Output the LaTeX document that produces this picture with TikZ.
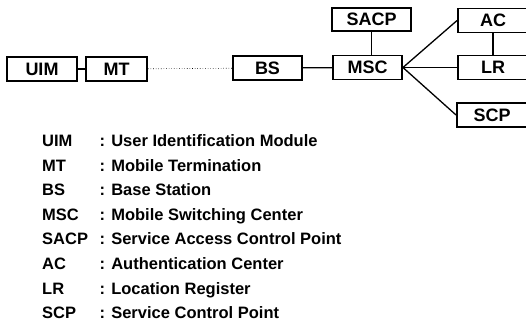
\documentclass[tikz,border=0pt]{standalone}
\usepackage{fontspec}
\setmainfont{Liberation Sans}
\begin{document}
\begin{tikzpicture}[x=1pt,y=-1pt,
  box/.style={draw=black, line width=1.9pt, minimum height=24pt, inner sep=0pt,
    font=\fontsize{18}{20}\selectfont\bfseries},
  conn/.style={line width=1.3pt},
  abbr/.style={anchor=base west, inner sep=0pt, font=\fontsize{16.5}{18}\selectfont\bfseries},
  desc/.style={anchor=base west, inner sep=0pt, font=\fontsize{16.5}{18}\selectfont\bfseries}]
\useasboundingbox (0,0) rectangle (526,327);
% boxes
\node[box, minimum width=70pt] (UIM) at (42,69) {UIM};
\node[box, minimum width=61pt] (MT) at (116.5,69) {MT};
\node[box, minimum width=69pt] (BS) at (267.5,68) {BS};
\node[box, minimum width=69pt] (MSC) at (367.5,67.5) {MSC};
\node[box, minimum width=79pt, minimum height=23pt] (SACP) at (371.5,19.5) {SACP};
\node[box, minimum width=70pt] (AC) at (493,20.5) {AC};
\node[box, minimum width=70pt] (LR) at (493,67.5) {LR};
\node[box, minimum width=70pt] (SCP) at (492,115) {SCP};
% connectors
\draw[conn] (UIM) -- (MT);
\draw[line width=0.6pt, dotted] (MT) -- (BS);
\draw[conn] (BS) -- (MSC);
\draw[conn] (SACP.south) -- (SACP.south |- MSC.north);
\draw[conn] (MSC.east) -- (AC.west);
\draw[conn] (MSC.east) -- (LR.west);
\draw[conn] (MSC.east) -- (SCP.west);
\draw[conn] (AC) -- (LR);
% legend
\node[abbr] (a1) at (42,146) {UIM};
\node[abbr] (a2) at (42,171) {MT};
\node[abbr] (a3) at (42,195) {BS};
\node[abbr] (a4) at (42,220) {MSC};
\node[abbr] (a5) at (42,244) {SACP};
\node[abbr] (a6) at (42,269) {AC};
\node[abbr] (a7) at (42,294) {LR};
\node[abbr] (a8) at (42,318) {SCP};
\node[desc] (d1) at (99.5,146) {: User Identification Module};
\node[desc] (d2) at (99.5,171) {: Mobile Termination};
\node[desc] (d3) at (99.5,195) {: Base Station};
\node[desc] (d4) at (99.5,220) {: Mobile Switching Center};
\node[desc] (d5) at (99.5,244) {: Service Access Control Point};
\node[desc] (d6) at (99.5,269) {: Authentication Center};
\node[desc] (d7) at (99.5,294) {: Location Register};
\node[desc] (d8) at (99.5,318) {: Service Control Point};
\end{tikzpicture}
\end{document}
